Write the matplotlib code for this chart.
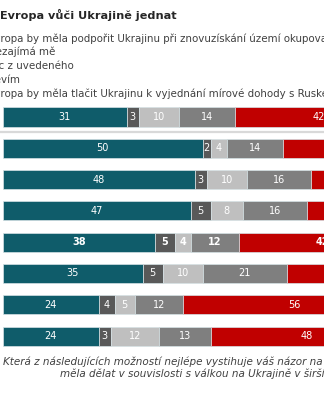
import matplotlib
matplotlib.use("Agg")
import matplotlib.pyplot as plt
import numpy as np

plt.rcParams['font.family'] = ['DejaVu Sans']

title = "Evropa vůči Ukrajině jednat"
legend_labels = [
    "Evropa by měla podpořit Ukrajinu při znovuzískání území okupovaných Ruskem",
    "Nezajímá mě",
    "Nic z uvedeného",
    "Nevím",
    "Evropa by měla tlačit Ukrajinu k vyjednání mírové dohody s Ruskem",
]
caption1 = "Která z následujících možností nejlépe vystihuje váš názor na to, co by Evropa"
caption2 = "měla dělat v souvislosti s válkou na Ukrajině v širším smyslu?"

support = [31, 50, 48, 47, 38, 35, 24, 24]
not_interested = [3, 2, 3, 5, 5, 5, 4, 3]
none_of = [10, 4, 10, 8, 4, 10, 5, 12]
dont_know = [14, 14, 16, 16, 12, 21, 12, 13]
push_peace = [42, 30, 23, 24, 42, 29, 56, 48]
bold_row = 4

series = [support, not_interested, none_of, dont_know, push_peace]
colors = ["#0F5C6A", "#595959", "#BFBFBF", "#7F7F7F", "#C00000"]

W, H = 324, 400
fig = plt.figure(figsize=(W / 100, H / 100), dpi=100)

# axes in pixel geometry
ax_left_px, ax_width_px = 2.7, 400.0
ax_top_px, ax_bot_px = 100.0, 352.0
ax = fig.add_axes([ax_left_px / W, 1 - ax_bot_px / H, ax_width_px / W, (ax_bot_px - ax_top_px) / H])
ax.set_xlim(0, 100)
step = 31.3
first_c = 117.0
ax.set_ylim(7 + (ax_bot_px - (first_c + 7 * step)) / step, -(first_c - ax_top_px) / step)
ax.axis("off")

n = len(support)
y = np.arange(n)
left = np.zeros(n)
for vals, col in zip(series, colors):
    vals = np.array(vals, dtype=float)
    ax.barh(y, vals, left=left, height=0.61, color=col, edgecolor="#D6E2E5", linewidth=0.5)
    for i in range(n):
        ax.text(left[i] + vals[i] / 2, y[i], f"{int(vals[i])}", ha="center", va="center",
                color="white", fontsize=7.0,
                fontweight="bold" if i == bold_row else "normal", clip_on=True)
    left += vals

# separator after first row
ax.plot([-2, 100], [0.49, 0.49], color="#D9D9D9", linewidth=1.6, clip_on=False)

# title and legend texts (figure pixel coords)
def fy(px):
    return 1 - px / H

fig.text(0.5 / W, fy(15), title, fontsize=8.1, fontweight="bold", color="#262626", va="center", ha="left")
leg_y = [38, 52, 66, 80, 94]
for lab, yy in zip(legend_labels, leg_y):
    fig.text(-12.5 / W, fy(yy), lab, fontsize=7.4, color="#404040", va="center", ha="left")

fig.text(3 / W, fy(362), caption1, fontsize=7.5, style="italic", color="#404040", va="center", ha="left")
fig.text(60 / W, fy(374), caption2, fontsize=7.5, style="italic", color="#404040", va="center", ha="left")

fig.savefig("out.png", dpi=100)
